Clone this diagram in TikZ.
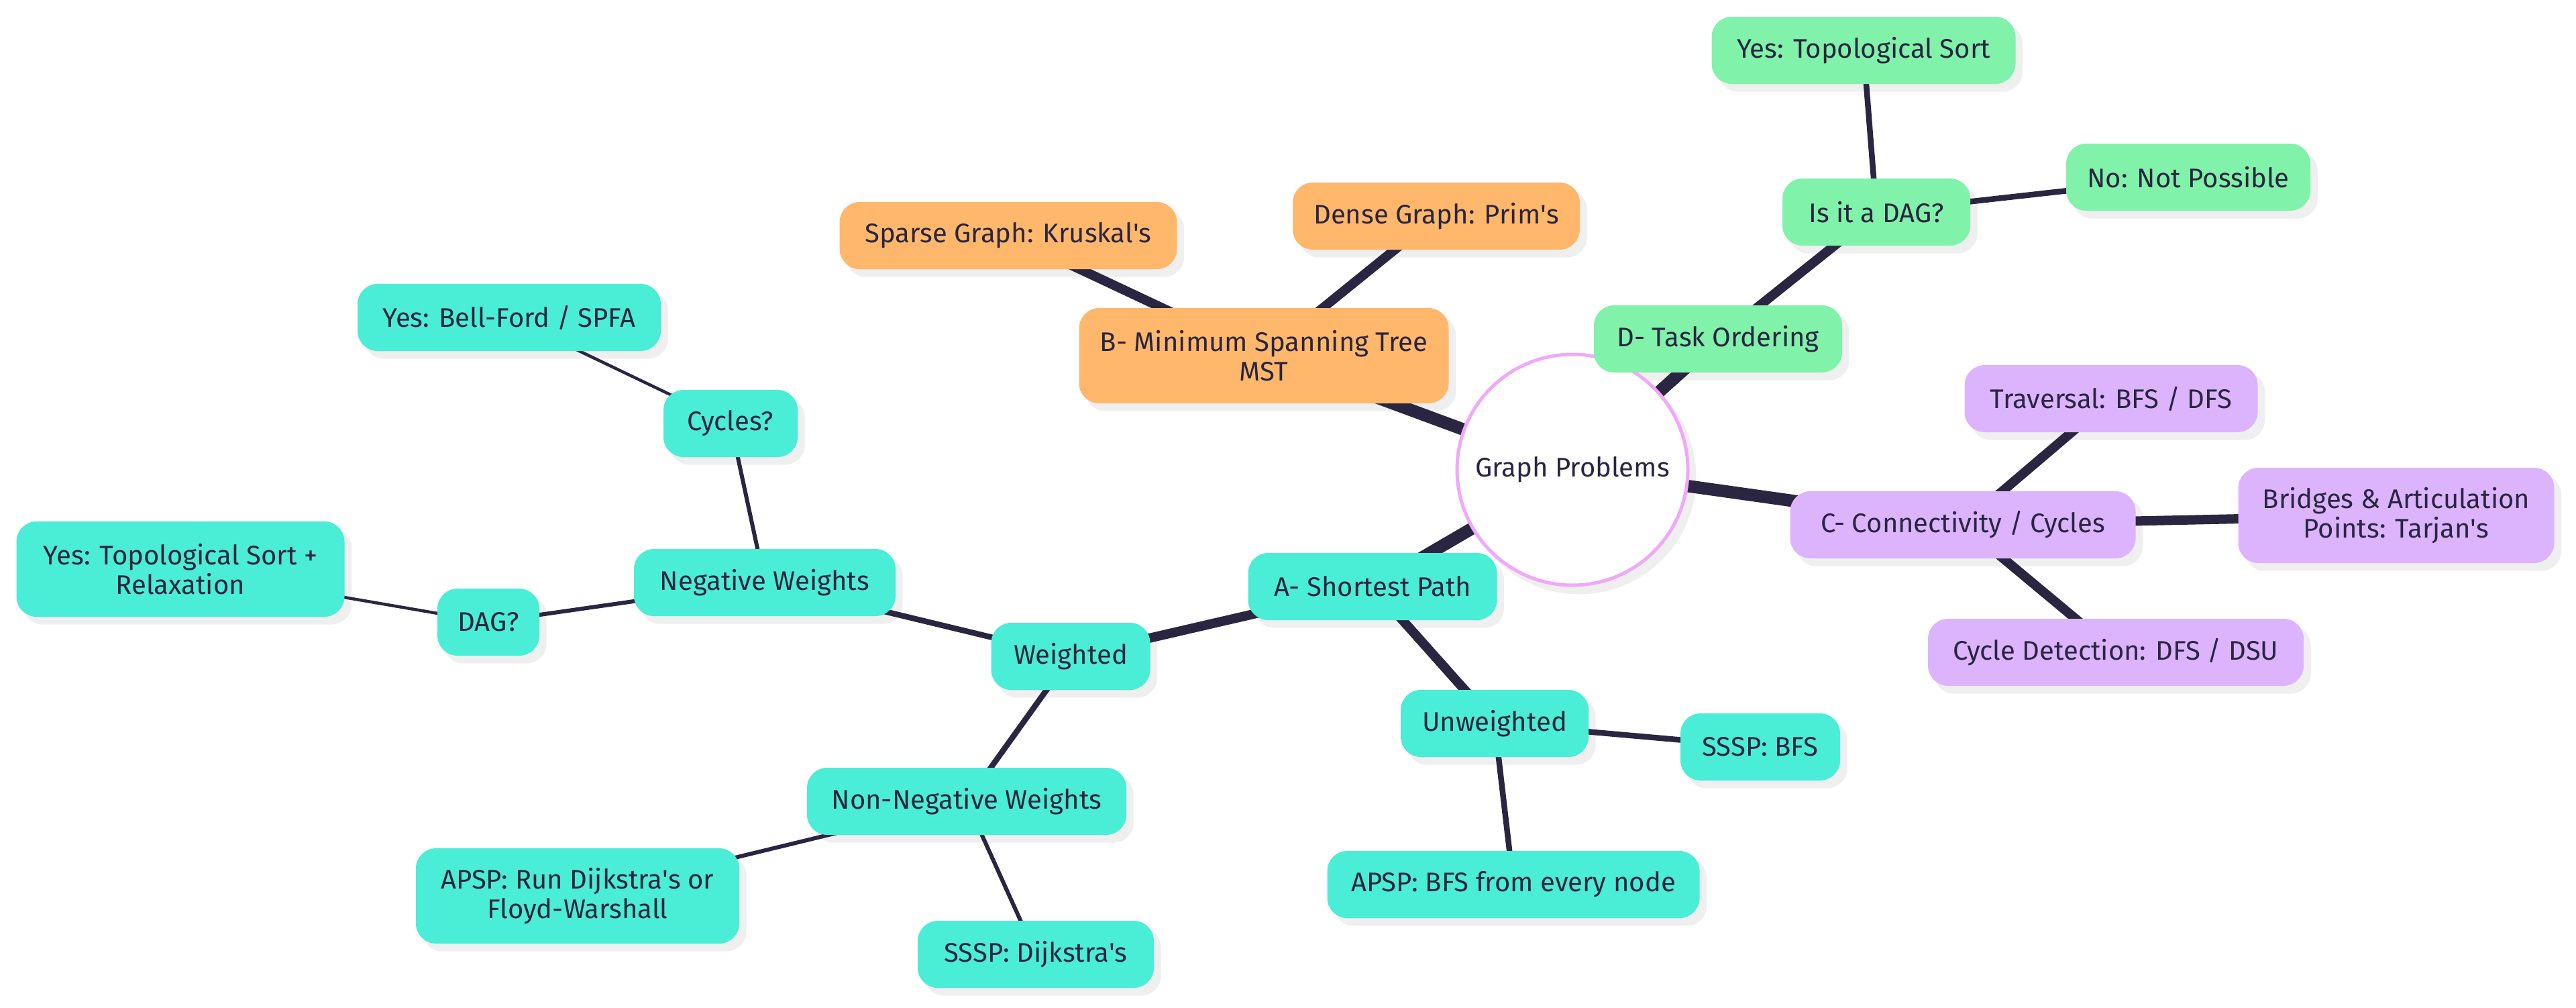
\documentclass[tikz,border=0pt]{standalone}
\usepackage{fontspec}
\setmainfont{Fira Sans}

\definecolor{ink}{RGB}{42,37,64}
\definecolor{mmteal}{RGB}{74,237,213}
\definecolor{mmorange}{RGB}{255,184,107}
\definecolor{mmgreen}{RGB}{128,242,170}
\definecolor{mmpurple}{RGB}{220,180,253}
\definecolor{mmpink}{RGB}{240,168,250}
\definecolor{mmshade}{RGB}{239,239,239}

\pgfdeclarelayer{shade}
\pgfdeclarelayer{edges}
\pgfsetlayers{shade,edges,main}

\tikzset{
  mnode/.style={rectangle, rounded corners=0.3cm, minimum height=1cm,
    inner xsep=0.3cm, inner ysep=0.25cm, align=center, text=ink,
    font=\fontsize{11.4pt}{12.5pt}\selectfont},
  secA/.style={mnode, fill=mmteal},
  secB/.style={mnode, fill=mmorange},
  secC/.style={mnode, fill=mmpurple},
  secD/.style={mnode, fill=mmgreen},
  tall/.style={minimum height=1.42cm},
  lvl0/.style={draw=ink, line width=0.185cm},
  lvl1/.style={draw=ink, line width=0.14cm},
  lvl2/.style={draw=ink, line width=0.085cm},
  lvl3/.style={draw=ink, line width=0.06cm},
  lvl4/.style={draw=ink, line width=0.045cm},
}

\newcommand{\ap}{\textquotesingle}

\begin{document}
\begin{tikzpicture}
\useasboundingbox (0,0) rectangle (38.40,-15.01);
% centre
\node[circle, draw=mmpink, line width=0.05cm, fill=white, minimum size=3.44cm,
  text=ink, font=\fontsize{11.4pt}{12.5pt}\selectfont] (root) at (23.44,-7.00) {Graph Problems};
% four branches
\node[secA, minimum width=3.71cm] (sp) at (20.46,-8.74) {A- Shortest Path};
\node[secB, tall, minimum width=5.51cm] (mst) at (18.84,-5.30) {B- Minimum Spanning Tree\\MST};
\node[secC, minimum width=5.15cm] (conn) at (29.26,-7.82) {C- Connectivity / Cycles};
\node[secD, minimum width=3.70cm] (task) at (25.61,-5.05) {D- Task Ordering};
% B: spanning tree
\node[secB, minimum width=5.03cm] (sparse) at (15.03,-3.51) {Sparse Graph: Kruskal\ap s};
\node[secB, minimum width=4.28cm] (dense) at (21.41,-3.22) {Dense Graph: Prim\ap s};
% D: ordering
\node[secD, minimum width=2.80cm] (isdag) at (27.97,-3.16) {Is it a DAG?};
\node[secD, minimum width=4.53cm] (toposort) at (27.78,-0.75) {Yes: Topological Sort};
\node[secD, minimum width=3.64cm] (nope) at (32.62,-2.64) {No: Not Possible};
% C: connectivity
\node[secC, minimum width=4.37cm] (trav) at (31.47,-5.94) {Traversal: BFS / DFS};
\node[secC, tall, minimum width=4.71cm] (bridges) at (35.72,-7.68) {Bridges \& Articulation\\Points: Tarjan\ap s};
\node[secC, minimum width=5.60cm] (cycdet) at (31.54,-9.72) {Cycle Detection: DFS / DSU};
% A: unweighted side
\node[secA, minimum width=2.80cm] (unw) at (22.28,-10.78) {Unweighted};
\node[secA, minimum width=2.38cm] (ssspbfs) at (26.24,-11.13) {SSSP: BFS};
\node[secA, minimum width=5.55cm] (apspbfs) at (22.56,-13.18) {APSP: BFS from every node};
% A: weighted side
\node[secA, minimum width=2.37cm] (wtd) at (15.96,-9.78) {Weighted};
\node[secA, minimum width=3.90cm] (neg) at (11.40,-8.68) {Negative Weights};
\node[secA, minimum width=4.76cm] (nonneg) at (14.41,-11.94) {Non-Negative Weights};
\node[secA, minimum width=3.52cm] (ssspdij) at (15.44,-14.22) {SSSP: Dijkstra\ap s};
\node[secA, tall, minimum width=4.82cm] (apspdij) at (8.61,-13.35) {APSP: Run Dijkstra\ap s or\\Floyd-Warshall};
\node[secA, minimum width=2.00cm] (cyc) at (10.89,-6.31) {Cycles?};
\node[secA, minimum width=4.52cm] (bellford) at (7.59,-4.73) {Yes: Bell-Ford / SPFA};
\node[secA, minimum width=1.52cm] (dagq) at (7.28,-9.27) {DAG?};
\node[secA, tall, minimum width=4.89cm] (relax) at (2.69,-8.48) {Yes: Topological Sort +\\Relaxation};

% connectors, thinner with depth
\begin{pgfonlayer}{edges}
\draw[lvl0] (root.center) -- (sp.center);
\draw[lvl0] (root.center) -- (mst.center);
\draw[lvl0] (root.center) -- (conn.center);
\draw[lvl0] (root.center) -- (task.center);
\draw[lvl1] (mst.center) -- (sparse.center);
\draw[lvl1] (mst.center) -- (dense.center);
\draw[lvl1] (task.center) -- (isdag.center);
\draw[lvl1] (conn.center) -- (trav.center);
\draw[lvl1] (conn.center) -- (bridges.center);
\draw[lvl1] (conn.center) -- (cycdet.center);
\draw[lvl1] (sp.center) -- (unw.center);
\draw[lvl1] (sp.center) -- (wtd.center);
\draw[lvl2] (isdag.center) -- (toposort.center);
\draw[lvl2] (isdag.center) -- (nope.center);
\draw[lvl2] (unw.center) -- (ssspbfs.center);
\draw[lvl2] (unw.center) -- (apspbfs.center);
\draw[lvl2] (wtd.center) -- (neg.center);
\draw[lvl2] (wtd.center) -- (nonneg.center);
\draw[lvl3] (neg.center) -- (cyc.center);
\draw[lvl3] (neg.center) -- (dagq.center);
\draw[lvl3] (nonneg.center) -- (ssspdij.center);
\draw[lvl3] (nonneg.center) -- (apspdij.center);
\draw[lvl4] (cyc.center) -- (bellford.center);
\draw[lvl4] (dagq.center) -- (relax.center);
\end{pgfonlayer}

% soft shadows under every box
\begin{pgfonlayer}{shade}
\foreach \n in {sp,mst,conn,task,sparse,dense,isdag,toposort,nope,trav,bridges,cycdet,
  unw,ssspbfs,apspbfs,wtd,neg,nonneg,ssspdij,apspdij,cyc,bellford,dagq,relax}
  \fill[mmshade, rounded corners=0.3cm] ([shift={(0.10,-0.11)}]\n.south west)
    rectangle ([shift={(0.10,-0.11)}]\n.north east);
\fill[mmshade] ([shift={(0.10,-0.11)}]root.center) circle (1.745);
\end{pgfonlayer}
\end{tikzpicture}
\end{document}
